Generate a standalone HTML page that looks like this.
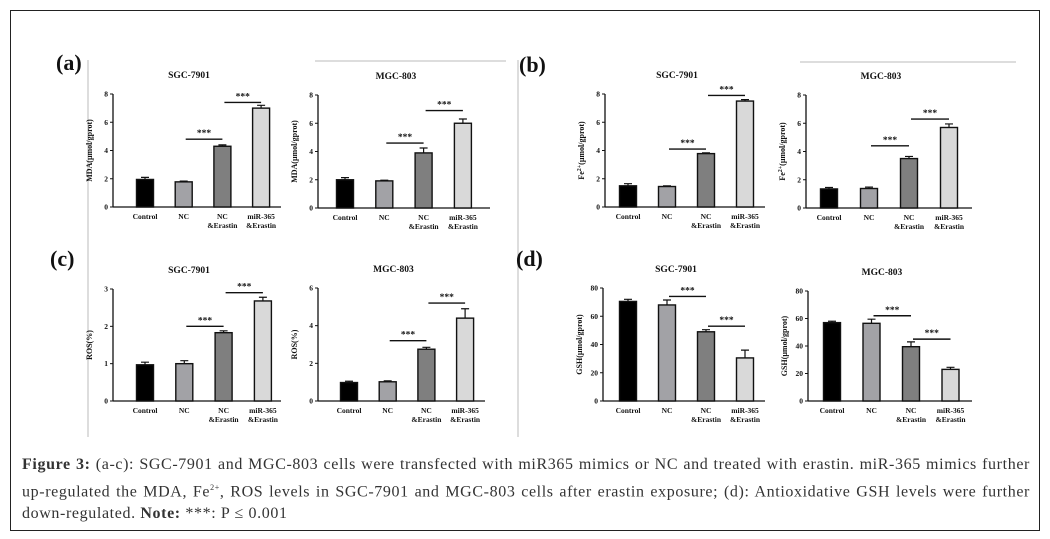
<!DOCTYPE html>
<html><head><meta charset="utf-8">
<style>
html,body{margin:0;padding:0;background:#fff;}
body{width:1050px;height:539px;overflow:hidden;position:relative;font-family:"Liberation Serif",serif;}
#frame{position:absolute;left:10px;top:10px;width:1030px;height:521px;border:1px solid #222;box-sizing:border-box;}
#cap{position:absolute;left:22px;top:454px;width:1008px;font-size:16px;line-height:22.5px;color:#333;text-align:justify;letter-spacing:0.62px;}
svg text{font-family:"Liberation Serif",serif;font-weight:bold;fill:#111;}
</style></head><body>
<div id="frame"></div>
<svg id="fig" width="1050" height="539" style="position:absolute;left:0;top:0">
<line x1="88" y1="60" x2="88" y2="437" stroke="#bbb" stroke-width="1"/>
<line x1="518" y1="60" x2="518" y2="437" stroke="#bbb" stroke-width="1"/>
<line x1="315" y1="61" x2="506" y2="61" stroke="#bbb" stroke-width="1"/>
<line x1="800" y1="62" x2="1016" y2="62" stroke="#bbb" stroke-width="1"/>
<text x="56" y="70" font-size="22">(a)</text>
<text x="519" y="72" font-size="22">(b)</text>
<text x="50" y="266" font-size="22">(c)</text>
<text x="516" y="266" font-size="22">(d)</text>
</svg>
<div id="cap"><b>Figure 3:</b> (a-c): SGC-7901 and MGC-803 cells were transfected with miR365 mimics or NC and treated with erastin. miR-365 mimics further up-regulated the MDA, Fe<sup style="font-size:8px">2+</sup>, ROS levels in SGC-7901 and MGC-803 cells after erastin exposure; (d): Antioxidative GSH levels were further down-regulated. <b>Note:</b> ***: P ≤ 0.001</div>
<script>
const categories = ["Control","NC","NC\n&Erastin","miR-365\n&Erastin"];
const aSgcValues=[1.95,1.78,4.3,7.0], aSgcErr=[0.15,0.05,0.1,0.2], aSgcTicks=[0,2,4,6,8], aSgcSig=[[1,2,4.8],[2,3,7.4]];
const aMgcValues=[2.0,1.92,3.9,6.0], aMgcErr=[0.15,0.05,0.35,0.3], aMgcTicks=[0,2,4,6,8], aMgcSig=[[1,2,4.6],[2,3,6.9]];
const bSgcValues=[1.5,1.45,3.78,7.5], bSgcErr=[0.15,0.05,0.05,0.1], bSgcTicks=[0,2,4,6,8], bSgcSig=[[1,2,4.1],[2,3,7.9]];
const bMgcValues=[1.35,1.38,3.5,5.7], bMgcErr=[0.1,0.1,0.15,0.25], bMgcTicks=[0,2,4,6,8], bMgcSig=[[1,2,4.4],[2,3,6.3]];
const cSgcValues=[0.97,1.0,1.83,2.68], cSgcErr=[0.07,0.08,0.05,0.1], cSgcTicks=[0,1,2,3], cSgcSig=[[1,2,2.0],[2,3,2.9]];
const cMgcValues=[0.98,1.02,2.75,4.4], cMgcErr=[0.07,0.05,0.1,0.5], cMgcTicks=[0,2,4,6], cMgcSig=[[1,2,3.2],[2,3,5.2]];
const dSgcValues=[70.5,68,49,30.5], dSgcErr=[1.5,3.5,1.5,5.5], dSgcTicks=[0,20,40,60,80], dSgcSig=[[1,2,74],[2,3,53]];
const dMgcValues=[57,56.5,39.5,23], dMgcErr=[1,3,3.5,1.5], dMgcTicks=[0,20,40,60,80], dMgcSig=[[1,2,62],[2,3,45]];
const colors=["#000","#a2a2a6","#7f7f7f","#d9d9d9"];
const svg=document.getElementById('fig');
const NS="http://www.w3.org/2000/svg";
function mk(tag,attrs){const e=document.createElementNS(NS,tag);for(const k in attrs)e.setAttribute(k,attrs[k]);svg.appendChild(e);return e;}
function panel(id,title,ylab,ax,yTop,yBot,x0,gap,xEnd,vals,errs,ticks,sigs){
  const max=ticks[ticks.length-1];
  const Y=v=>yBot-(v/max)*(yBot-yTop);
  const X=i=>x0+i*gap;
  let t=mk('text',{x:(ax+xEnd)/2-8,y:yTop-16,'font-size':9.5,'text-anchor':'middle'});t.textContent=title;
  
  
  let yl=mk('text',{x:0,y:0,'font-size':8,'text-anchor':'middle',transform:`translate(${ax-21},${(yTop+yBot)/2}) rotate(-90)`});
  yl.innerHTML=ylab;
  
  
  let a=mk('line',{x1:ax,y1:yTop,x2:ax,y2:yBot,stroke:'#111','stroke-width':1.3});
  
  
  let xa=mk('line',{x1:ax,y1:yBot,x2:xEnd,y2:yBot,stroke:'#111','stroke-width':1.3});
  
  
  ticks.forEach(v=>{
    let tk=mk('line',{x1:ax-3,y1:Y(v),x2:ax,y2:Y(v),stroke:'#111','stroke-width':1});
    
    
    let tl=mk('text',{x:ax-5,y:Y(v)+2.5,'font-size':7.5,'text-anchor':'end'});tl.textContent=v;
    
    
  });
  vals.forEach((v,i)=>{
    const cx=X(i),w=17;
    let r=mk('rect',{x:cx-w/2,y:Y(v),width:w,height:yBot-Y(v),fill:colors[i],stroke:'#111','stroke-width':1.4});
    
    
    let e=mk('path',{d:`M${cx},${Y(v)}V${Y(v+errs[i])}M${cx-4},${Y(v+errs[i])}H${cx+4}`,stroke:'#111','stroke-width':1.2,fill:'none'});
    
    
    const lines=categories[i].split('\n');
    lines.forEach((ln,j)=>{
      let c=mk('text',{x:cx,y:yBot+12+j*9,'font-size':7.5,'text-anchor':'middle'});c.textContent=ln;
      
      
    });
  });
  sigs.forEach(s=>{
    const y=Y(s[2]);
    let l=mk('line',{x1:X(s[0])+2,y1:y,x2:X(s[1]),y2:y,stroke:'#111','stroke-width':1.4});
    
    
    let st=mk('text',{x:(X(s[0])+X(s[1]))/2+1,y:y-3,'font-size':9.5,'text-anchor':'middle'});st.textContent='***';
    
    
  });
}
panel('a-sgc','SGC-7901','MDA(μmol/gprot)',113,94,207,145,38.7,281,aSgcValues,aSgcErr,aSgcTicks,aSgcSig);
panel('a-mgc','MGC-803','MDA(μmol/gprot)',318,95,208,345,39.3,490,aMgcValues,aMgcErr,aMgcTicks,aMgcSig);
panel('b-sgc','SGC-7901','Fe<tspan font-size="6" dy="-3">2+</tspan><tspan dy="3">(μmol/gprot)</tspan>',605,94,207,628,39,765,bSgcValues,bSgcErr,bSgcTicks,bSgcSig);
panel('b-mgc','MGC-803','Fe<tspan font-size="6" dy="-3">2+</tspan><tspan dy="3">(μmol/gprot)</tspan>',806,95,208,829,40,972,bMgcValues,bMgcErr,bMgcTicks,bMgcSig);
panel('c-sgc','SGC-7901','ROS(%)',113,289,401,145,39.3,281,cSgcValues,cSgcErr,cSgcTicks,cSgcSig);
panel('c-mgc','MGC-803','ROS(%)',318,288,401,349,38.7,485,cMgcValues,cMgcErr,cMgcTicks,cMgcSig);
panel('d-sgc','SGC-7901','GSH(μmol/gprot)',603,288,401,628,39,765,dSgcValues,dSgcErr,dSgcTicks,dSgcSig);
panel('d-mgc','MGC-803','GSH(μmol/gprot)',808,291,401,832,39.5,972,dMgcValues,dMgcErr,dMgcTicks,dMgcSig);
</script>
</body></html>
